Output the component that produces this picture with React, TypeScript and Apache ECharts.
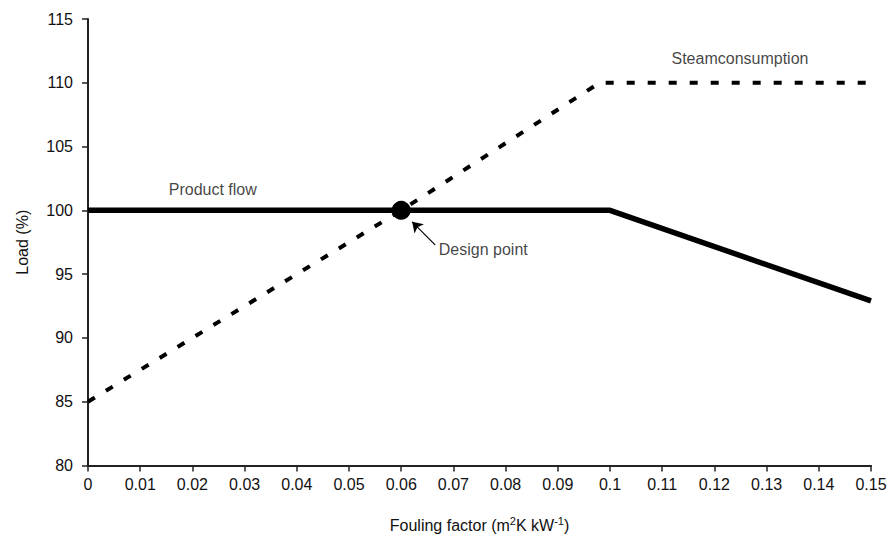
import React, { useEffect, useRef } from "react";
import * as echarts from "echarts";

const xTicks = [0, 0.01, 0.02, 0.03, 0.04, 0.05, 0.06, 0.07, 0.08, 0.09, 0.1, 0.11, 0.12, 0.13, 0.14, 0.15];
const productFlowX = [0, 0.1, 0.15];
const productFlowY = [100, 100, 92.9];
const steamX = [0, 0.06, 0.098, 0.15];
const steamY = [85, 100, 110, 110];
const designPoint = [0.06, 100];
const annotations = [
  { text: "Product flow", x: 0.0239, y: 101.65, align: "center" },
  { text: "Steamconsumption", x: 0.1249, y: 111.9, align: "center" },
  { text: "Design point", x: 0.0672, y: 96.95, align: "left" },
];
const arrowFrom = [0.0665, 97.3];
const arrowTo = [0.0621, 99.1];

const FONT = "Liberation Sans, Arial, sans-serif";
const INK = "#111";

export default function App() {
  const ref = useRef<HTMLDivElement>(null);
  useEffect(() => {
    if (!ref.current) return;
    const chart = echarts.init(ref.current, undefined, { renderer: "svg" });
    chart.setOption({
      animation: false,
      backgroundColor: "#fff",
      textStyle: { fontFamily: FONT, color: INK },
      grid: { left: 88, right: 22, top: 19, bottom: 66, containLabel: false },
      xAxis: {
        type: "value",
        min: 0,
        max: 0.15,
        interval: 0.01,
        splitLine: { show: false },
        axisLine: { show: true, onZero: false, lineStyle: { color: "#222", width: 2 } },
        axisTick: { show: true, length: 6, lineStyle: { color: "#222", width: 1.5 } },
        axisLabel: {
          color: INK,
          fontSize: 16,
          fontFamily: FONT,
          margin: 11,
          formatter: (v: number) => {
            const found = xTicks.find((t) => Math.abs(t - v) < 1e-9);
            return found === undefined ? "" : String(Number(found.toFixed(2)));
          },
        },
        name: "{a|Fouling factor (m}{s|2}{a|K kW}{s|-1}{a|)}",
        nameLocation: "middle",
        nameGap: 50,
        nameTextStyle: {
          rich: {
            a: { fontSize: 16, fontFamily: FONT, color: INK },
            s: { fontSize: 11, fontFamily: FONT, color: INK, verticalAlign: "top", padding: [0, 0, 8, 0] },
          },
        },
      },
      yAxis: {
        type: "value",
        min: 80,
        max: 115,
        interval: 5,
        splitLine: { show: false },
        axisLine: { show: true, onZero: false, lineStyle: { color: "#222", width: 2 } },
        axisTick: { show: true, length: 6, lineStyle: { color: "#222", width: 1.5 } },
        axisLabel: { color: INK, fontSize: 16, fontFamily: FONT, margin: 15 },
        name: "Load (%)",
        nameLocation: "middle",
        nameGap: 58,
        nameTextStyle: { fontSize: 16, fontFamily: FONT, color: INK },
      },
      series: [
        {
          name: "Steam consumption",
          type: "line",
          data: steamX.map((x, i) => [x, steamY[i]]),
          showSymbol: false,
          symbol: "none",
          lineStyle: { color: "#000", width: 4, type: [8, 13] },
          z: 2,
        },
        {
          name: "Product flow",
          type: "line",
          data: productFlowX.map((x, i) => [x, productFlowY[i]]),
          showSymbol: false,
          symbol: "none",
          lineStyle: { color: "#000", width: 5.5 },
          z: 3,
        },
        {
          name: "Design point",
          type: "scatter",
          data: [designPoint],
          symbol: "circle",
          symbolSize: 19,
          itemStyle: { color: "#000", opacity: 1 },
          z: 4,
          markLine: {
            silent: true,
            symbol: ["none", "arrow"],
            symbolSize: 10,
            label: { show: false },
            lineStyle: { color: "#000", width: 1.2, type: "solid", opacity: 1 },
            data: [[{ coord: arrowFrom }, { coord: arrowTo }]],
          },
        },
        {
          name: "annotations",
          type: "scatter",
          symbolSize: 0,
          data: annotations.map((a) => ({
            value: [a.x, a.y],
            label: {
              show: true,
              position: a.align === "left" ? "right" : "inside",
              distance: 0,
              formatter: a.text,
              fontSize: 16,
              fontFamily: FONT,
              color: INK,
            },
          })),
          z: 5,
        },
      ],
    });
    return () => chart.dispose();
  }, []);
  return <div ref={ref} style={{ width: 893, height: 538, position: "absolute", left: 0, top: 0 }} />;
}
